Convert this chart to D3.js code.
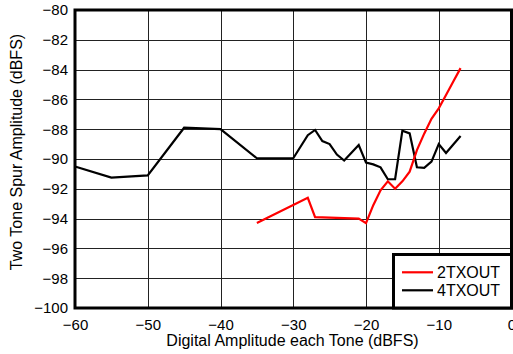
<!DOCTYPE html>
<html><head><meta charset="utf-8">
<script src="https://cdn.jsdelivr.net/npm/d3@7"></script>
<style>body{margin:0;background:#fff}svg{display:block}text{font-family:"Liberation Sans",Arial,sans-serif}</style>
</head><body><svg id="c" width="513" height="354"></svg>
<script>
const xTicks = [-60,-50,-40,-30,-20,-10,0];
const yTicks = [-80,-82,-84,-86,-88,-90,-92,-94,-96,-98,-100];
const seriesNames = ["2TXOUT","4TXOUT"];
const seriesColors = ["#ff0000","#000000"];
const tx2X = [-35,-28,-27,-21,-20,-19,-18,-17,-16,-15,-14,-13,-12,-11,-10,-9,-8,-7];
const tx2Y = [-94.3,-92.6,-93.9,-94.0,-94.3,-93.1,-92.1,-91.5,-92.0,-91.5,-90.85,-89.4,-88.3,-87.3,-86.6,-85.7,-84.8,-83.9];
const tx4X = [-60,-55,-50,-45,-40,-35,-30,-28,-27,-26,-25,-24,-23,-21,-20,-19,-18,-17,-16,-15,-14,-13,-12,-11,-10,-9,-7];
const tx4Y = [-90.5,-91.25,-91.1,-87.9,-88.0,-89.95,-89.95,-88.4,-88.05,-88.8,-89.0,-89.7,-90.1,-89.06,-90.24,-90.36,-90.56,-91.36,-91.36,-88.1,-88.28,-90.56,-90.6,-90.18,-89.0,-89.6,-88.46];

const svg = d3.select("#c");
const L=75,R=511.5,T=10,B=308;
const x = d3.scaleLinear().domain([-60,0]).range([L,R]);
const y = d3.scaleLinear().domain([-100,-80]).range([B,T]);
const FF = "Liberation Sans, Arial, sans-serif";

// grid
const g = svg.append("g");
g.selectAll("line.v").data(xTicks).enter().append("line")
 .attr("x1",d=>Math.round(x(d))+0.5).attr("x2",d=>Math.round(x(d))+0.5).attr("y1",T).attr("y2",B)
 .attr("stroke","#222").attr("stroke-width",1);
g.selectAll("line.h").data(yTicks).enter().append("line")
 .attr("y1",d=>Math.round(y(d))+0.5).attr("y2",d=>Math.round(y(d))+0.5).attr("x1",L).attr("x2",R)
 .attr("stroke","#222").attr("stroke-width",1);

// axes labels via d3 axes
const ax = svg.append("g").attr("transform",`translate(0,${B})`)
 .call(d3.axisBottom(x).tickValues(xTicks).tickSize(0).tickPadding(11).tickFormat(d3.format("d")));
ax.select(".domain").remove();
ax.selectAll("text").attr("font-size",15).attr("fill","#000").attr("font-family",FF);
const ay = svg.append("g").attr("transform",`translate(${L},0)`)
 .call(d3.axisLeft(y).tickValues(yTicks).tickSize(0).tickPadding(7).tickFormat(d3.format("d")));
ay.select(".domain").remove();
ay.selectAll("text").attr("font-size",15).attr("fill","#000").attr("font-family",FF);

// lines
const line = d3.line().x(d=>x(d[0])).y(d=>y(d[1]));
const data = [d3.zip(tx2X,tx2Y), d3.zip(tx4X,tx4Y)];
[1,0].forEach(i=>{
 svg.append("path").datum(data[i]).attr("d",line).attr("fill","none")
  .attr("stroke",seriesColors[i]).attr("stroke-width",2.2).attr("stroke-linejoin","miter");
});

// frame
svg.append("rect").attr("x",L).attr("y",T).attr("width",R-L).attr("height",B-T)
 .attr("fill","none").attr("stroke","#000").attr("stroke-width",3);

// legend
const lg = svg.append("g");
lg.append("rect").attr("x",393.5).attr("y",254.5).attr("width",R-393.5).attr("height",B-254.5)
 .attr("fill","#fff").attr("stroke","#000").attr("stroke-width",3);
seriesNames.forEach((n,i)=>{
 const yy = 272.3 + i*18;
 lg.append("line").attr("x1",402).attr("x2",433).attr("y1",yy).attr("y2",yy)
  .attr("stroke",seriesColors[i]).attr("stroke-width",2.2);
 lg.append("text").attr("x",437).attr("y",yy+6).attr("font-size",16).text(n);
});

// titles
svg.append("text").attr("x",292.5).attr("y",346).attr("text-anchor","middle")
 .attr("font-size",16).text("Digital Amplitude each Tone (dBFS)");
svg.append("text").attr("transform",`translate(22,152) rotate(-90)`).attr("text-anchor","middle")
 .attr("font-size",16).text("Two Tone Spur Amplitude (dBFS)");
</script></body></html>
